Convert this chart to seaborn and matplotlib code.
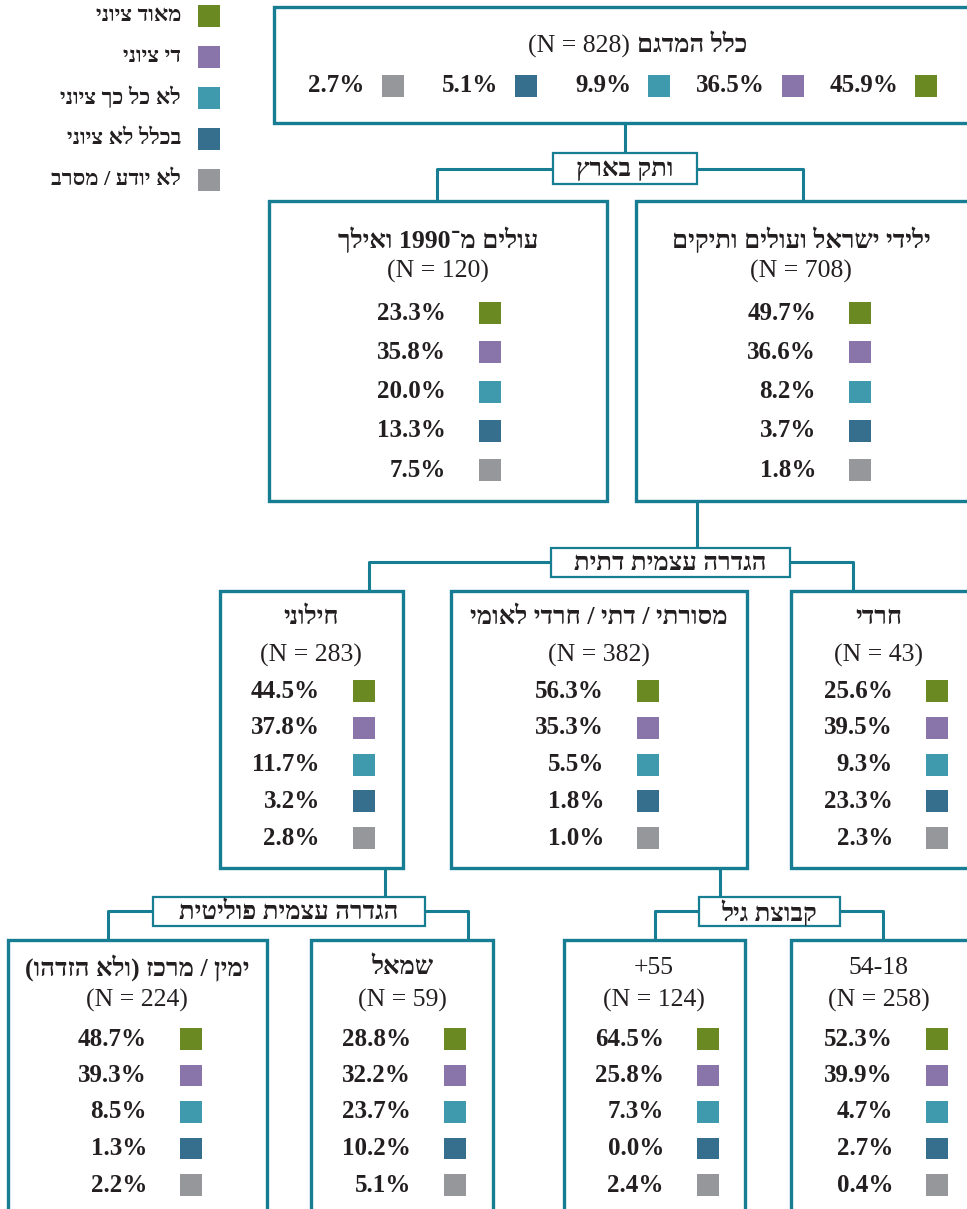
import re
import pandas as pd
import seaborn as sns
import matplotlib.pyplot as plt
from matplotlib.patches import Rectangle

# ---- data ----
legend_labels = ["מאוד ציוני", "די ציוני", "לא כל כך ציוני", "בכלל לא ציוני", "לא יודע / מסרב"]
colors = ["#6b8923", "#8a75aa", "#3f9aad", "#366f8e", "#96979b"]

total_title = "כלל המדגם"
total_n = 828
total_pct = [45.9, 36.5, 9.9, 5.1, 2.7]

seniority_label = "ותק בארץ"
seniority_names = ["ילידי ישראל ועולים ותיקים", "עולים מ־1990 ואילך"]
seniority_n = [708, 120]
seniority_pct = [[49.7, 36.6, 8.2, 3.7, 1.8],
                 [23.3, 35.8, 20.0, 13.3, 7.5]]

religion_label = "הגדרה עצמית דתית"
religion_names = ["חרדי", "מסורתי / דתי / חרדי לאומי", "חילוני"]
religion_n = [43, 382, 283]
religion_pct = [[25.6, 39.5, 9.3, 23.3, 2.3],
                [56.3, 35.3, 5.5, 1.8, 1.0],
                [44.5, 37.8, 11.7, 3.2, 2.8]]

politics_label = "הגדרה עצמית פוליטית"
politics_names = ["שמאל", "ימין / מרכז (ולא הזדהו)"]
politics_n = [59, 224]
politics_pct = [[28.8, 32.2, 23.7, 10.2, 5.1],
                [48.7, 39.3, 8.5, 1.3, 2.2]]

age_label = "קבוצת גיל"
age_names = ["18-54", "55+"]
age_n = [258, 124]
age_pct = [[52.3, 39.9, 4.7, 2.7, 0.4],
           [64.5, 25.8, 7.3, 0.0, 2.4]]


def rtl(s):
    # visual order for matplotlib (no bidi support)
    r = s[::-1]
    r = re.sub(r"[0-9]+", lambda m: m.group()[::-1], r)
    return r.translate(str.maketrans("()", ")("))


sns.set_theme(style="white")
plt.rcParams["font.family"] = ["Liberation Serif", "DejaVu Sans"]

EDGE = "#167d92"
TXT = "#231f20"
FS_T = 18.5   # titles
FS_P = 18     # percentages

fig = plt.figure(figsize=(9.67, 12.09), dpi=100)
ax = fig.add_axes([0, 0, 1, 1])
ax.set_xlim(0, 967)
ax.set_ylim(1209, 0)
ax.axis("off")

squares = []  # rows for the seaborn scatter


def box(x0, y0, x1, y1, lw=2.4):
    ax.add_patch(Rectangle((x0, y0), x1 - x0, y1 - y0, facecolor="white",
                           edgecolor=EDGE, lw=lw, zorder=1))


def label_box(text, x0, y0, x1, y1):
    box(x0, y0, x1, y1, lw=1.6)
    ax.text((x0 + x1) / 2, (y0 + y1) / 2 + 1, rtl(text), ha="center", va="center",
            fontsize=FS_T, fontweight="bold", color=TXT, zorder=3)


def line(xs, ys):
    ax.plot(xs, ys, color=EDGE, lw=2.2, zorder=0, solid_capstyle="butt")


def node(x0, y0, x1, y1, cx, title, n, pct, sq_x, title_y, n_y, row0, step,
         weight="bold"):
    box(x0, y0, x1, y1)
    ax.text(cx, title_y, rtl(title), ha="center", va="center", fontsize=FS_T,
            fontweight=weight, color=TXT, zorder=3)
    ax.text(cx, n_y, f"(N = {n})", ha="center", va="center", fontsize=FS_T,
            color=TXT, zorder=3)
    for i, v in enumerate(pct):
        y = row0 + i * step
        ax.text(sq_x - 44, y, f"{v:.1f}%", ha="right", va="center", fontsize=FS_P,
                fontweight="bold", color=TXT, zorder=3)
        squares.append({"x": sq_x, "y": y, "cat": legend_labels[i]})


# legend
for i, lab in enumerate(legend_labels):
    y = 16 + i * 41
    ax.text(181, y, rtl(lab), ha="right", va="center", fontsize=16,
            fontweight="bold", color=TXT)
    squares.append({"x": 209, "y": y, "cat": lab})

# top box
box(274, 7, 980, 123)
ax.text(630, 46, f"(N = {total_n})", ha="right", va="center",
        fontsize=FS_T, color=TXT, zorder=3)
ax.text(637, 46, rtl(total_title), ha="left", va="center",
        fontsize=FS_T, fontweight="bold", color=TXT, zorder=3)
for i, v in enumerate(total_pct):
    sx = 926 - i * 133.3
    ax.text(sx - 28, 86, f"{v:.1f}%", ha="right", va="center", fontsize=FS_P,
            fontweight="bold", color=TXT, zorder=3)
    squares.append({"x": sx, "y": 86, "cat": legend_labels[i]})

# level 1 connectors
line([625, 625], [123, 153])
line([437, 437, 803, 803], [201, 169, 169, 201])
label_box(seniority_label, 553, 153, 697, 184)

# level 2
lvl2 = [(636, 980, 801, 860), (269, 607, 438, 490)]
for (x0, x1, cx, sq), name, n, pct in zip(lvl2, seniority_names, seniority_n, seniority_pct):
    node(x0, 201, x1, 501, cx, name, n, pct, sq, 240, 271, 313, 39.3)

# level 2 -> religion
line([697, 697], [501, 548])
line([369, 369, 853, 853], [591, 562, 562, 591])
label_box(religion_label, 551, 548, 790, 577)

lvl3 = [(791, 980, 879, 937), (451, 747, 599, 648), (220, 403, 311, 364)]
for (x0, x1, cx, sq), name, n, pct in zip(lvl3, religion_names, religion_n, religion_pct):
    node(x0, 591, x1, 868, cx, name, n, pct, sq, 617, 655, 691, 36.8)

# level 3 -> politics / age
line([385, 385], [868, 897])
line([108, 108, 468, 468], [940, 911, 911, 940])
label_box(politics_label, 153, 897, 425, 926)

line([720, 720], [868, 897])
line([655, 655, 883, 883], [940, 911, 911, 940])
label_box(age_label, 699, 897, 840, 926)

lvl4_pol = [(311, 493, 402, 455), (8, 267, 137, 191)]
for (x0, x1, cx, sq), name, n, pct in zip(lvl4_pol, politics_names, politics_n, politics_pct):
    node(x0, 940, x1, 1225, cx, name, n, pct, sq, 968, 1000, 1039, 36.5)

lvl4_age = [(791, 980, 879, 937), (564, 745, 654, 708)]
for (x0, x1, cx, sq), name, n, pct in zip(lvl4_age, age_names, age_n, age_pct):
    node(x0, 940, x1, 1225, cx, name, n, pct, sq, 968, 1000, 1039, 36.5,
         weight="normal")

sq_df = pd.DataFrame(squares)
sns.scatterplot(data=sq_df, x="x", y="y", hue="cat", hue_order=legend_labels,
                palette=colors, marker="s", s=250, linewidth=0, legend=False,
                ax=ax, zorder=4)
ax.set_xlim(0, 967)
ax.set_ylim(1209, 0)
ax.axis("off")

fig.savefig("out.png", dpi=100)
